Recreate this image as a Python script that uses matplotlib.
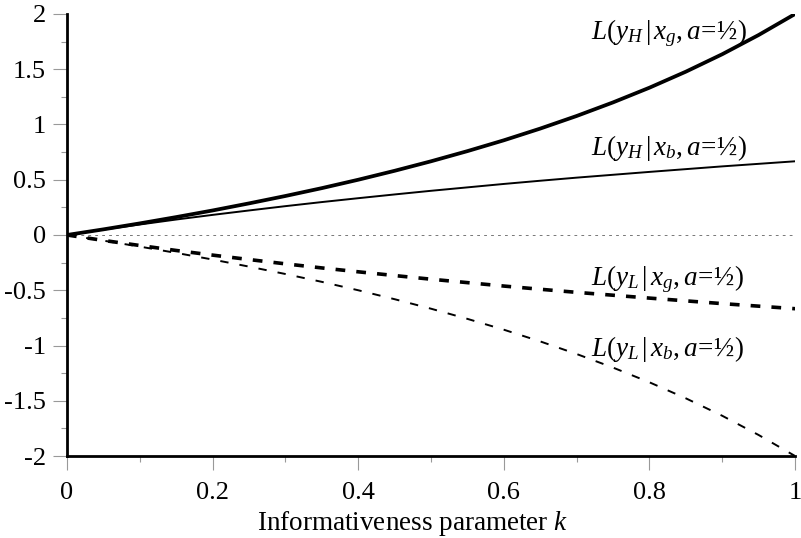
import numpy as np
import matplotlib
matplotlib.use('Agg')
import matplotlib.pyplot as plt

plt.rcParams['font.family'] = 'Liberation Serif'
plt.rcParams['mathtext.fontset'] = 'custom'
plt.rcParams['mathtext.rm'] = 'Liberation Serif'
plt.rcParams['mathtext.it'] = 'Liberation Serif:italic'
plt.rcParams['lines.scale_dashes'] = False

# informativeness parameter k
k = [0.0, 0.05, 0.1, 0.15, 0.2, 0.25, 0.3, 0.35, 0.4, 0.45, 0.5,
     0.55, 0.6, 0.65, 0.7, 0.75, 0.8, 0.85, 0.9, 0.95, 1.0]

L_yH_xg = [0.0, 0.051, 0.105, 0.162, 0.222, 0.286, 0.353, 0.424, 0.5, 0.581, 0.667,
           0.759, 0.857, 0.963, 1.077, 1.2, 1.333, 1.478, 1.636, 1.81, 2.0]
L_yH_xb = [0.0, 0.049, 0.095, 0.14, 0.182, 0.222, 0.261, 0.298, 0.333, 0.367, 0.4,
           0.431, 0.462, 0.491, 0.519, 0.545, 0.571, 0.596, 0.621, 0.644, 0.667]
L_yL_xg = [0.0, -0.049, -0.095, -0.14, -0.182, -0.222, -0.261, -0.298, -0.333, -0.367, -0.4,
           -0.431, -0.462, -0.491, -0.519, -0.545, -0.571, -0.596, -0.621, -0.644, -0.667]
L_yL_xb = [0.0, -0.051, -0.105, -0.162, -0.222, -0.286, -0.353, -0.424, -0.5, -0.581, -0.667,
           -0.759, -0.857, -0.963, -1.077, -1.2, -1.333, -1.478, -1.636, -1.81, -2.0]

labels = [r'$L(y_H\,|\,x_g,a\!=\!$½$)$', r'$L(y_H\,|\,x_b,a\!=\!$½$)$',
          r'$L(y_L\,|\,x_g,a\!=\!$½$)$', r'$L(y_L\,|\,x_b,a\!=\!$½$)$']
label_pos = [(0.72, 1.83), (0.72, 0.79), (0.72, -0.40), (0.72, -1.03)]

fig = plt.figure(figsize=(8.01, 5.38), dpi=100)
ax = fig.add_axes([0.0836, 0.1524, 0.909, 0.8216])

ax.axhline(0, color='#777777', lw=0.7, ls=(0, (2, 3)), zorder=1)

ax.plot(k, L_yH_xg, color='k', lw=2.7, solid_capstyle='butt')
ax.plot(k, L_yH_xb, color='k', lw=1.4)
ax.plot(k, L_yL_xg, color='k', lw=2.6, ls=(0, (7, 8)))
ax.plot(k, L_yL_xb, color='k', lw=1.4, ls=(0, (6, 8)))

for txt, (xx, yy) in zip(labels, label_pos):
    ax.text(xx, yy, txt, fontsize=19.5, ha='left', va='center')

ax.set_xlim(0, 1)
ax.set_ylim(-2, 2)
ax.set_xticks(np.arange(0, 1.01, 0.2))
ax.set_xticks(np.arange(0, 1.01, 0.1), minor=True)
ax.set_yticks(np.arange(-2, 2.01, 0.5))
ax.set_yticks(np.arange(-2, 2.01, 0.25), minor=True)
ax.set_xticklabels(['0', '0.2', '0.4', '0.6', '0.8', '1'])
ax.set_yticklabels(['-2', '-1.5', '-1', '-0.5', '0', '0.5', '1', '1.5', '2'])

ax.tick_params(which='major', direction='out', length=10, width=0.8, color='#999999',
               labelsize=19)
ax.tick_params(which='minor', direction='out', length=4, width=0.8, color='#999999')
ax.tick_params(axis='y', which='major', pad=5)
ax.tick_params(axis='x', which='major', pad=9)

for s in ['top', 'right']:
    ax.spines[s].set_visible(False)
for s in ['left', 'bottom']:
    ax.spines[s].set_linewidth(2)

ax.set_xlabel(r'Informativeness parameter $k$', fontsize=19.5)
ax.xaxis.set_label_coords(0.475, -0.12)

plt.savefig('out.png', dpi=100)
